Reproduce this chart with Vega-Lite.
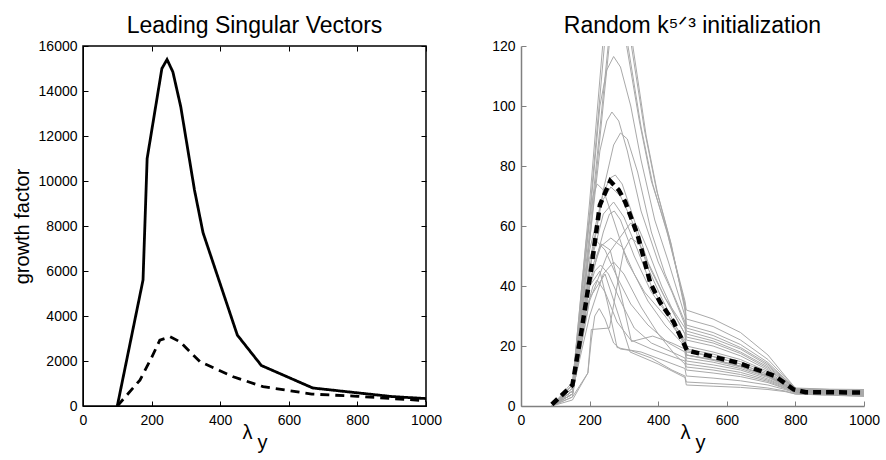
{
  "$schema": "https://vega.github.io/schema/vega-lite/v6.json",
  "padding": {"left": 11, "top": 14, "right": 5, "bottom": 5},
  "spacing": 48,
  "config": {
    "font": "Liberation Sans",
    "view": {"stroke": null},
    "axis": {"grid": false, "labelFontSize": 14, "labelColor": "black", "titleFontWeight": "normal", "titleColor": "black", "labelFont": "Liberation Sans", "titleFont": "Liberation Sans"},
    "title": {"fontSize": 23, "fontWeight": "normal", "font": "Liberation Sans", "color": "black", "offset": 1}
  },
  "datasets": {
    "left": [
      {"s": "solid", "x": 100, "y": 0}, {"s": "solid", "x": 175, "y": 5600}, {"s": "solid", "x": 187, "y": 11000}, {"s": "solid", "x": 230, "y": 15000}, {"s": "solid", "x": 245, "y": 15400}, {"s": "solid", "x": 262, "y": 14850}, {"s": "solid", "x": 285, "y": 13300}, {"s": "solid", "x": 325, "y": 9600}, {"s": "solid", "x": 350, "y": 7700}, {"s": "solid", "x": 450, "y": 3150}, {"s": "solid", "x": 520, "y": 1800}, {"s": "solid", "x": 670, "y": 800}, {"s": "solid", "x": 900, "y": 420}, {"s": "solid", "x": 1000, "y": 330},
      {"s": "dashed", "x": 100, "y": 0}, {"s": "dashed", "x": 166, "y": 1150}, {"s": "dashed", "x": 200, "y": 2150}, {"s": "dashed", "x": 224, "y": 2930}, {"s": "dashed", "x": 254, "y": 3080}, {"s": "dashed", "x": 283, "y": 2850}, {"s": "dashed", "x": 341, "y": 1970}, {"s": "dashed", "x": 438, "y": 1300}, {"s": "dashed", "x": 525, "y": 860}, {"s": "dashed", "x": 667, "y": 530}, {"s": "dashed", "x": 800, "y": 430}, {"s": "dashed", "x": 1000, "y": 235}
    ],
    "mean": [
      {"x": 90, "y": 0.5}, {"x": 150, "y": 7}, {"x": 175, "y": 24}, {"x": 205, "y": 46}, {"x": 230, "y": 67}, {"x": 260, "y": 75}, {"x": 285, "y": 72}, {"x": 304, "y": 68}, {"x": 340, "y": 57}, {"x": 377, "y": 41}, {"x": 406, "y": 34.5}, {"x": 445, "y": 28}, {"x": 470, "y": 22}, {"x": 484, "y": 18.5}, {"x": 630, "y": 14.5}, {"x": 740, "y": 10}, {"x": 795, "y": 5.5}, {"x": 830, "y": 4.6}, {"x": 1000, "y": 4.5}
    ],
    "gray": [
      {"id": 1, "x": 90, "y": 0}, {"id": 1, "x": 150, "y": 7}, {"id": 1, "x": 200, "y": 68}, {"id": 1, "x": 238, "y": 120}, {"id": 1, "x": 270, "y": 150}, {"id": 1, "x": 308, "y": 120}, {"id": 1, "x": 345, "y": 95}, {"id": 1, "x": 380, "y": 75}, {"id": 1, "x": 424, "y": 59}, {"id": 1, "x": 478, "y": 35}, {"id": 1, "x": 482, "y": 32}, {"id": 1, "x": 560, "y": 29}, {"id": 1, "x": 640, "y": 24.5}, {"id": 1, "x": 720, "y": 17}, {"id": 1, "x": 770, "y": 10}, {"id": 1, "x": 800, "y": 6}, {"id": 1, "x": 900, "y": 5.6}, {"id": 1, "x": 1000, "y": 5.5},
      {"id": 2, "x": 90, "y": 0}, {"id": 2, "x": 150, "y": 6}, {"id": 2, "x": 200, "y": 64}, {"id": 2, "x": 243, "y": 120}, {"id": 2, "x": 273, "y": 145}, {"id": 2, "x": 312, "y": 120}, {"id": 2, "x": 350, "y": 93}, {"id": 2, "x": 384, "y": 74}, {"id": 2, "x": 428, "y": 57}, {"id": 2, "x": 478, "y": 34}, {"id": 2, "x": 482, "y": 29}, {"id": 2, "x": 560, "y": 26.5}, {"id": 2, "x": 640, "y": 22}, {"id": 2, "x": 720, "y": 15.5}, {"id": 2, "x": 770, "y": 9.5}, {"id": 2, "x": 800, "y": 5.8}, {"id": 2, "x": 1000, "y": 5.2},
      {"id": 3, "x": 90, "y": 0}, {"id": 3, "x": 150, "y": 6}, {"id": 3, "x": 200, "y": 58}, {"id": 3, "x": 254, "y": 120}, {"id": 3, "x": 288, "y": 140}, {"id": 3, "x": 322, "y": 120}, {"id": 3, "x": 360, "y": 92}, {"id": 3, "x": 395, "y": 72}, {"id": 3, "x": 435, "y": 55}, {"id": 3, "x": 478, "y": 33}, {"id": 3, "x": 482, "y": 27}, {"id": 3, "x": 560, "y": 24.5}, {"id": 3, "x": 640, "y": 20.5}, {"id": 3, "x": 720, "y": 14.5}, {"id": 3, "x": 770, "y": 9}, {"id": 3, "x": 800, "y": 5.6}, {"id": 3, "x": 1000, "y": 5},
      {"id": 4, "x": 90, "y": 0}, {"id": 4, "x": 150, "y": 5}, {"id": 4, "x": 200, "y": 55}, {"id": 4, "x": 257, "y": 120}, {"id": 4, "x": 290, "y": 136}, {"id": 4, "x": 326, "y": 120}, {"id": 4, "x": 365, "y": 90}, {"id": 4, "x": 398, "y": 71}, {"id": 4, "x": 438, "y": 54}, {"id": 4, "x": 478, "y": 32}, {"id": 4, "x": 482, "y": 26}, {"id": 4, "x": 560, "y": 23.5}, {"id": 4, "x": 640, "y": 19.5}, {"id": 4, "x": 720, "y": 14}, {"id": 4, "x": 770, "y": 8.8}, {"id": 4, "x": 800, "y": 5.5}, {"id": 4, "x": 1000, "y": 5},
      {"id": 5, "x": 90, "y": 0}, {"id": 5, "x": 150, "y": 6}, {"id": 5, "x": 200, "y": 62}, {"id": 5, "x": 230, "y": 100}, {"id": 5, "x": 250, "y": 112}, {"id": 5, "x": 270, "y": 116.5}, {"id": 5, "x": 290, "y": 113}, {"id": 5, "x": 320, "y": 100}, {"id": 5, "x": 350, "y": 82}, {"id": 5, "x": 390, "y": 62}, {"id": 5, "x": 430, "y": 48}, {"id": 5, "x": 478, "y": 30}, {"id": 5, "x": 482, "y": 25}, {"id": 5, "x": 560, "y": 22.5}, {"id": 5, "x": 640, "y": 19}, {"id": 5, "x": 720, "y": 13.5}, {"id": 5, "x": 770, "y": 8.5}, {"id": 5, "x": 800, "y": 5.5}, {"id": 5, "x": 1000, "y": 4.8},
      {"id": 6, "x": 90, "y": 0}, {"id": 6, "x": 150, "y": 5}, {"id": 6, "x": 200, "y": 55}, {"id": 6, "x": 230, "y": 85}, {"id": 6, "x": 250, "y": 95}, {"id": 6, "x": 265, "y": 98}, {"id": 6, "x": 285, "y": 95}, {"id": 6, "x": 310, "y": 85}, {"id": 6, "x": 350, "y": 65}, {"id": 6, "x": 400, "y": 48}, {"id": 6, "x": 440, "y": 38}, {"id": 6, "x": 478, "y": 27}, {"id": 6, "x": 482, "y": 24}, {"id": 6, "x": 560, "y": 21.7}, {"id": 6, "x": 640, "y": 18}, {"id": 6, "x": 720, "y": 13}, {"id": 6, "x": 770, "y": 8.3}, {"id": 6, "x": 800, "y": 5.4}, {"id": 6, "x": 1000, "y": 4.8},
      {"id": 7, "x": 90, "y": 0}, {"id": 7, "x": 150, "y": 5}, {"id": 7, "x": 200, "y": 45}, {"id": 7, "x": 240, "y": 72}, {"id": 7, "x": 270, "y": 87}, {"id": 7, "x": 290, "y": 91}, {"id": 7, "x": 310, "y": 89}, {"id": 7, "x": 340, "y": 78}, {"id": 7, "x": 380, "y": 58}, {"id": 7, "x": 420, "y": 44}, {"id": 7, "x": 478, "y": 28}, {"id": 7, "x": 482, "y": 22}, {"id": 7, "x": 560, "y": 20}, {"id": 7, "x": 640, "y": 16.7}, {"id": 7, "x": 720, "y": 12}, {"id": 7, "x": 770, "y": 8}, {"id": 7, "x": 800, "y": 5.3}, {"id": 7, "x": 1000, "y": 4.6},
      {"id": 8, "x": 90, "y": 0}, {"id": 8, "x": 150, "y": 6}, {"id": 8, "x": 200, "y": 52}, {"id": 8, "x": 240, "y": 71}, {"id": 8, "x": 260, "y": 76}, {"id": 8, "x": 275, "y": 77}, {"id": 8, "x": 295, "y": 74}, {"id": 8, "x": 330, "y": 62}, {"id": 8, "x": 370, "y": 48}, {"id": 8, "x": 420, "y": 36}, {"id": 8, "x": 478, "y": 24}, {"id": 8, "x": 482, "y": 20}, {"id": 8, "x": 560, "y": 18}, {"id": 8, "x": 640, "y": 15.5}, {"id": 8, "x": 720, "y": 11.5}, {"id": 8, "x": 770, "y": 7.5}, {"id": 8, "x": 800, "y": 5.2}, {"id": 8, "x": 1000, "y": 4.5},
      {"id": 9, "x": 90, "y": 0}, {"id": 9, "x": 150, "y": 7}, {"id": 9, "x": 190, "y": 55}, {"id": 9, "x": 210, "y": 70}, {"id": 9, "x": 222, "y": 74}, {"id": 9, "x": 240, "y": 72}, {"id": 9, "x": 270, "y": 62}, {"id": 9, "x": 310, "y": 48}, {"id": 9, "x": 360, "y": 38}, {"id": 9, "x": 420, "y": 30}, {"id": 9, "x": 478, "y": 21}, {"id": 9, "x": 482, "y": 18}, {"id": 9, "x": 560, "y": 16.5}, {"id": 9, "x": 640, "y": 14}, {"id": 9, "x": 720, "y": 10.5}, {"id": 9, "x": 770, "y": 7}, {"id": 9, "x": 800, "y": 5}, {"id": 9, "x": 1000, "y": 4.4},
      {"id": 10, "x": 90, "y": 0}, {"id": 10, "x": 150, "y": 5}, {"id": 10, "x": 200, "y": 40}, {"id": 10, "x": 240, "y": 58}, {"id": 10, "x": 258, "y": 64}, {"id": 10, "x": 272, "y": 65}, {"id": 10, "x": 290, "y": 62}, {"id": 10, "x": 330, "y": 50}, {"id": 10, "x": 380, "y": 38}, {"id": 10, "x": 430, "y": 30}, {"id": 10, "x": 478, "y": 22}, {"id": 10, "x": 482, "y": 17}, {"id": 10, "x": 560, "y": 15.5}, {"id": 10, "x": 640, "y": 13.3}, {"id": 10, "x": 720, "y": 10}, {"id": 10, "x": 770, "y": 7}, {"id": 10, "x": 800, "y": 5}, {"id": 10, "x": 1000, "y": 4.3},
      {"id": 11, "x": 90, "y": 0}, {"id": 11, "x": 150, "y": 4}, {"id": 11, "x": 200, "y": 35}, {"id": 11, "x": 250, "y": 50}, {"id": 11, "x": 300, "y": 58}, {"id": 11, "x": 320, "y": 61}, {"id": 11, "x": 340, "y": 60}, {"id": 11, "x": 370, "y": 52}, {"id": 11, "x": 410, "y": 40}, {"id": 11, "x": 450, "y": 30}, {"id": 11, "x": 478, "y": 24}, {"id": 11, "x": 482, "y": 19}, {"id": 11, "x": 560, "y": 17.3}, {"id": 11, "x": 640, "y": 14.8}, {"id": 11, "x": 720, "y": 11}, {"id": 11, "x": 770, "y": 7.3}, {"id": 11, "x": 800, "y": 5.1}, {"id": 11, "x": 1000, "y": 4.4},
      {"id": 12, "x": 90, "y": 0}, {"id": 12, "x": 150, "y": 5}, {"id": 12, "x": 200, "y": 44}, {"id": 12, "x": 230, "y": 53}, {"id": 12, "x": 262, "y": 56}, {"id": 12, "x": 295, "y": 53}, {"id": 12, "x": 330, "y": 44}, {"id": 12, "x": 370, "y": 35}, {"id": 12, "x": 420, "y": 27}, {"id": 12, "x": 478, "y": 20}, {"id": 12, "x": 482, "y": 16}, {"id": 12, "x": 560, "y": 14.6}, {"id": 12, "x": 640, "y": 12.5}, {"id": 12, "x": 720, "y": 9.5}, {"id": 12, "x": 770, "y": 6.7}, {"id": 12, "x": 800, "y": 4.9}, {"id": 12, "x": 1000, "y": 4.2},
      {"id": 13, "x": 90, "y": 0}, {"id": 13, "x": 150, "y": 7}, {"id": 13, "x": 195, "y": 48}, {"id": 13, "x": 220, "y": 55}, {"id": 13, "x": 245, "y": 52}, {"id": 13, "x": 280, "y": 43}, {"id": 13, "x": 320, "y": 34}, {"id": 13, "x": 370, "y": 27}, {"id": 13, "x": 430, "y": 21}, {"id": 13, "x": 478, "y": 18}, {"id": 13, "x": 482, "y": 15}, {"id": 13, "x": 560, "y": 13.7}, {"id": 13, "x": 640, "y": 12}, {"id": 13, "x": 720, "y": 9}, {"id": 13, "x": 770, "y": 6.5}, {"id": 13, "x": 800, "y": 4.8}, {"id": 13, "x": 1000, "y": 4},
      {"id": 14, "x": 90, "y": 0}, {"id": 14, "x": 150, "y": 4}, {"id": 14, "x": 195, "y": 38}, {"id": 14, "x": 215, "y": 45}, {"id": 14, "x": 232, "y": 47}, {"id": 14, "x": 255, "y": 44}, {"id": 14, "x": 290, "y": 35}, {"id": 14, "x": 330, "y": 26}, {"id": 14, "x": 380, "y": 21}, {"id": 14, "x": 440, "y": 18}, {"id": 14, "x": 478, "y": 16}, {"id": 14, "x": 482, "y": 14}, {"id": 14, "x": 560, "y": 12.8}, {"id": 14, "x": 640, "y": 11.2}, {"id": 14, "x": 720, "y": 8.6}, {"id": 14, "x": 770, "y": 6.3}, {"id": 14, "x": 800, "y": 4.7}, {"id": 14, "x": 1000, "y": 4},
      {"id": 15, "x": 90, "y": 0}, {"id": 15, "x": 150, "y": 3}, {"id": 15, "x": 190, "y": 32}, {"id": 15, "x": 210, "y": 40}, {"id": 15, "x": 222, "y": 42}, {"id": 15, "x": 245, "y": 38}, {"id": 15, "x": 280, "y": 28}, {"id": 15, "x": 320, "y": 22}, {"id": 15, "x": 380, "y": 19}, {"id": 15, "x": 440, "y": 16.5}, {"id": 15, "x": 478, "y": 15}, {"id": 15, "x": 482, "y": 13}, {"id": 15, "x": 560, "y": 12}, {"id": 15, "x": 640, "y": 10.5}, {"id": 15, "x": 720, "y": 8.2}, {"id": 15, "x": 770, "y": 6}, {"id": 15, "x": 800, "y": 4.6}, {"id": 15, "x": 1000, "y": 3.8},
      {"id": 16, "x": 90, "y": 0}, {"id": 16, "x": 150, "y": 3}, {"id": 16, "x": 195, "y": 11}, {"id": 16, "x": 205, "y": 22}, {"id": 16, "x": 215, "y": 30}, {"id": 16, "x": 228, "y": 32.5}, {"id": 16, "x": 245, "y": 29}, {"id": 16, "x": 270, "y": 21}, {"id": 16, "x": 290, "y": 19}, {"id": 16, "x": 320, "y": 18.5}, {"id": 16, "x": 380, "y": 16}, {"id": 16, "x": 440, "y": 12}, {"id": 16, "x": 478, "y": 10}, {"id": 16, "x": 482, "y": 8}, {"id": 16, "x": 560, "y": 7.5}, {"id": 16, "x": 640, "y": 7}, {"id": 16, "x": 720, "y": 6}, {"id": 16, "x": 770, "y": 5}, {"id": 16, "x": 800, "y": 4}, {"id": 16, "x": 1000, "y": 3.3},
      {"id": 17, "x": 90, "y": 0}, {"id": 17, "x": 150, "y": 2}, {"id": 17, "x": 195, "y": 11}, {"id": 17, "x": 205, "y": 25.5}, {"id": 17, "x": 258, "y": 26}, {"id": 17, "x": 280, "y": 40}, {"id": 17, "x": 300, "y": 52}, {"id": 17, "x": 320, "y": 56}, {"id": 17, "x": 345, "y": 54}, {"id": 17, "x": 380, "y": 45}, {"id": 17, "x": 420, "y": 36}, {"id": 17, "x": 478, "y": 26}, {"id": 17, "x": 482, "y": 23}, {"id": 17, "x": 560, "y": 21}, {"id": 17, "x": 640, "y": 17.5}, {"id": 17, "x": 720, "y": 12.5}, {"id": 17, "x": 770, "y": 8}, {"id": 17, "x": 800, "y": 5.3}, {"id": 17, "x": 1000, "y": 4.7},
      {"id": 18, "x": 90, "y": 0}, {"id": 18, "x": 150, "y": 4}, {"id": 18, "x": 200, "y": 42}, {"id": 18, "x": 235, "y": 54}, {"id": 18, "x": 260, "y": 52}, {"id": 18, "x": 290, "y": 38}, {"id": 18, "x": 322, "y": 21.5}, {"id": 18, "x": 384, "y": 23.3}, {"id": 18, "x": 440, "y": 21}, {"id": 18, "x": 478, "y": 19}, {"id": 18, "x": 482, "y": 17}, {"id": 18, "x": 560, "y": 15.5}, {"id": 18, "x": 640, "y": 13.3}, {"id": 18, "x": 720, "y": 10}, {"id": 18, "x": 770, "y": 7}, {"id": 18, "x": 800, "y": 5}, {"id": 18, "x": 1000, "y": 4.3},
      {"id": 19, "x": 90, "y": 0}, {"id": 19, "x": 150, "y": 5}, {"id": 19, "x": 200, "y": 40}, {"id": 19, "x": 230, "y": 45}, {"id": 19, "x": 255, "y": 33}, {"id": 19, "x": 280, "y": 19.5}, {"id": 19, "x": 300, "y": 19}, {"id": 19, "x": 350, "y": 18}, {"id": 19, "x": 420, "y": 15}, {"id": 19, "x": 478, "y": 12.5}, {"id": 19, "x": 482, "y": 10}, {"id": 19, "x": 560, "y": 9.3}, {"id": 19, "x": 640, "y": 8.4}, {"id": 19, "x": 720, "y": 7}, {"id": 19, "x": 770, "y": 5.5}, {"id": 19, "x": 800, "y": 4.3}, {"id": 19, "x": 1000, "y": 3.5},
      {"id": 20, "x": 90, "y": 0}, {"id": 20, "x": 150, "y": 4}, {"id": 20, "x": 200, "y": 36}, {"id": 20, "x": 245, "y": 44}, {"id": 20, "x": 285, "y": 30}, {"id": 20, "x": 318, "y": 18}, {"id": 20, "x": 400, "y": 14}, {"id": 20, "x": 478, "y": 9.5}, {"id": 20, "x": 482, "y": 7}, {"id": 20, "x": 560, "y": 6.6}, {"id": 20, "x": 640, "y": 6.2}, {"id": 20, "x": 720, "y": 5.5}, {"id": 20, "x": 770, "y": 4.8}, {"id": 20, "x": 800, "y": 4}, {"id": 20, "x": 1000, "y": 3.2},
      {"id": 21, "x": 90, "y": 0}, {"id": 21, "x": 150, "y": 8}, {"id": 21, "x": 200, "y": 48}, {"id": 21, "x": 235, "y": 68}, {"id": 21, "x": 262, "y": 73}, {"id": 21, "x": 290, "y": 70}, {"id": 21, "x": 330, "y": 60}, {"id": 21, "x": 370, "y": 46}, {"id": 21, "x": 410, "y": 36}, {"id": 21, "x": 450, "y": 27}, {"id": 21, "x": 478, "y": 21}, {"id": 21, "x": 482, "y": 18.5}, {"id": 21, "x": 560, "y": 16.5}, {"id": 21, "x": 640, "y": 14}, {"id": 21, "x": 720, "y": 10.5}, {"id": 21, "x": 770, "y": 7}, {"id": 21, "x": 800, "y": 5.2}, {"id": 21, "x": 1000, "y": 4.5},
      {"id": 22, "x": 90, "y": 0}, {"id": 22, "x": 150, "y": 6}, {"id": 22, "x": 200, "y": 46}, {"id": 22, "x": 240, "y": 64}, {"id": 22, "x": 270, "y": 68}, {"id": 22, "x": 300, "y": 63}, {"id": 22, "x": 340, "y": 52}, {"id": 22, "x": 380, "y": 40}, {"id": 22, "x": 430, "y": 30}, {"id": 22, "x": 478, "y": 20}, {"id": 22, "x": 482, "y": 17}, {"id": 22, "x": 560, "y": 15.2}, {"id": 22, "x": 640, "y": 13}, {"id": 22, "x": 720, "y": 9.8}, {"id": 22, "x": 770, "y": 6.8}, {"id": 22, "x": 800, "y": 5}, {"id": 22, "x": 1000, "y": 4.2},
      {"id": 23, "x": 90, "y": 0}, {"id": 23, "x": 150, "y": 5}, {"id": 23, "x": 200, "y": 30}, {"id": 23, "x": 240, "y": 44}, {"id": 23, "x": 270, "y": 48}, {"id": 23, "x": 300, "y": 44}, {"id": 23, "x": 350, "y": 33}, {"id": 23, "x": 400, "y": 24}, {"id": 23, "x": 450, "y": 17}, {"id": 23, "x": 478, "y": 14}, {"id": 23, "x": 482, "y": 12}, {"id": 23, "x": 560, "y": 11}, {"id": 23, "x": 640, "y": 9.8}, {"id": 23, "x": 720, "y": 7.8}, {"id": 23, "x": 770, "y": 5.8}, {"id": 23, "x": 800, "y": 4.5}, {"id": 23, "x": 1000, "y": 3.7}
    ]
  },
  "hconcat": [
    {
      "width": 343,
      "height": 360,
      "title": {"text": "Leading Singular Vectors"},
      "view": {"stroke": "black", "strokeWidth": 1.5},
      "data": {"name": "left"},
      "resolve": {"axis": {"x": "independent", "y": "independent"}},
      "layer": [
        {
          "mark": {"type": "line", "color": "black", "strokeWidth": 2.8},
          "encoding": {
            "x": {"field": "x", "type": "quantitative", "scale": {"domain": [0, 1000], "nice": false},
                  "axis": {"values": [0, 200, 400, 600, 800, 1000], "format": "d", "title": ["λ\u2800", "\u2800y"], "titleFontSize": 20, "titleLineHeight": 10, "titlePadding": -5, "domainColor": "black", "tickColor": "black", "tickSize": -5, "labelPadding": 12, "labelFlush": false}},
            "y": {"field": "y", "type": "quantitative", "scale": {"domain": [0, 16000], "nice": false},
                  "axis": {"values": [0, 2000, 4000, 6000, 8000, 10000, 12000, 14000, 16000], "format": "d", "title": "growth factor", "titleFontSize": 20, "titlePadding": 6, "domainColor": "black", "tickColor": "black", "tickSize": -5, "labelPadding": 11}},
            "strokeDash": {"field": "s", "type": "nominal", "scale": {"domain": ["solid", "dashed"], "range": [[1, 0], [9, 6]]}, "legend": null}
          }
        },
        {
          "mark": {"type": "line", "opacity": 0},
          "encoding": {
            "x": {"field": "x", "type": "quantitative", "axis": {"orient": "top", "values": [0, 200, 400, 600, 800, 1000], "labels": false, "title": null, "domain": false, "tickColor": "black", "tickSize": -5}},
            "y": {"field": "y", "type": "quantitative", "axis": {"orient": "right", "values": [0, 2000, 4000, 6000, 8000, 10000, 12000, 14000, 16000], "labels": false, "title": null, "domain": false, "tickColor": "black", "tickSize": -5}},
            "detail": {"field": "s", "type": "nominal"}
          }
        }
      ]
    },
    {
      "width": 343,
      "height": 360,
      "title": {"text": "Random k⁵ᐟ³ initialization"},
      "layer": [
        {
          "data": {"name": "gray"},
          "mark": {"type": "line", "color": "#a9a9a9", "strokeWidth": 1, "clip": true},
          "encoding": {
            "x": {"field": "x", "type": "quantitative", "scale": {"domain": [0, 1000], "nice": false},
                  "axis": {"values": [0, 200, 400, 600, 800, 1000], "format": "d", "title": ["λ\u2800", "\u2800y"], "titleFontSize": 20, "titleLineHeight": 10, "titlePadding": -5, "domainColor": "#808080", "domainWidth": 1.5, "tickColor": "#808080", "tickSize": -5, "labelPadding": 12, "labelFlush": false}},
            "y": {"field": "y", "type": "quantitative", "scale": {"domain": [0, 120], "nice": false},
                  "axis": {"values": [0, 20, 40, 60, 80, 100, 120], "title": null, "domainColor": "#808080", "domainWidth": 1.5, "tickColor": "#808080", "tickSize": -5, "labelPadding": 11}},
            "detail": {"field": "id", "type": "nominal"}
          }
        },
        {
          "data": {"name": "mean"},
          "mark": {"type": "line", "color": "black", "strokeWidth": 4.5, "strokeDash": [8, 5], "clip": true},
          "encoding": {
            "x": {"field": "x", "type": "quantitative"},
            "y": {"field": "y", "type": "quantitative"}
          }
        }
      ]
    }
  ]
}
